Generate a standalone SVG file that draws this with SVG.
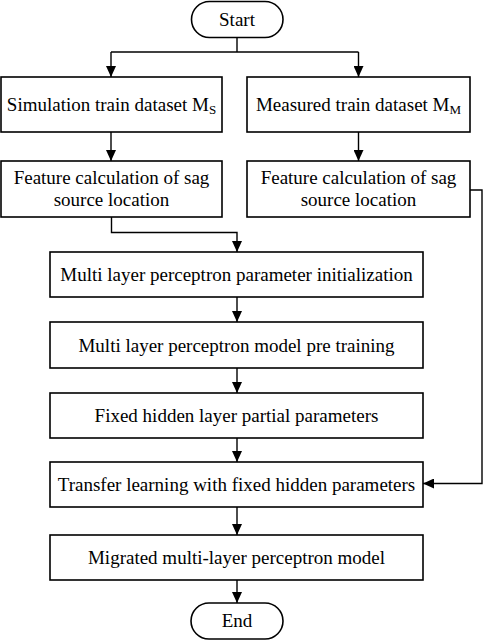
<svg xmlns="http://www.w3.org/2000/svg" width="484" height="640" viewBox="0 0 484 640">
<style>
.box{fill:#fff;stroke:#000;stroke-width:1.6}
.t{font-family:"Liberation Serif","Times New Roman",serif;font-size:19px;fill:#000;text-anchor:middle}
.sub{font-size:13px}
.c{fill:none;stroke:#000;stroke-width:1.4}
</style>
<defs>
<marker id="ah" markerUnits="userSpaceOnUse" markerWidth="12" markerHeight="10" refX="11" refY="5" orient="auto">
<path d="M0,0 L11,5 L0,10 z" fill="#000"/>
</marker>
</defs>
<rect width="484" height="640" fill="#fff"/>
<g id="connectors">
<path class="c" d="M237,38 V52"/>
<path class="c" d="M111,52 H358.5"/>
<path class="c" d="M111,52 V77" marker-end="url(#ah)"/>
<path class="c" d="M358.5,52 V77" marker-end="url(#ah)"/>
<path class="c" d="M111,132 V161" marker-end="url(#ah)"/>
<path class="c" d="M358.5,132 V161" marker-end="url(#ah)"/>
<path class="c" d="M111.5,217 V232.5 H237 V252" marker-end="url(#ah)"/>
<path class="c" d="M237,297 V322" marker-end="url(#ah)"/>
<path class="c" d="M237,368 V393" marker-end="url(#ah)"/>
<path class="c" d="M237,438 V462" marker-end="url(#ah)"/>
<path class="c" d="M237,507 V535" marker-end="url(#ah)"/>
<path class="c" d="M237,580 V603" marker-end="url(#ah)"/>
<path class="c" d="M470,190 H482 V483.5 H423" marker-end="url(#ah)"/>
</g>
<g id="start">
<rect class="box" x="191.5" y="1.5" width="91.5" height="36" rx="18" ry="18"/>
<text class="t" x="237" y="25.5">Start</text>
</g>
<g id="sim-dataset">
<rect class="box" x="1" y="77" width="221" height="55"/>
<text class="t" x="111.5" y="110.5">Simulation train dataset M<tspan class="sub" dy="3">S</tspan></text>
</g>
<g id="meas-dataset">
<rect class="box" x="247" y="77" width="223" height="55"/>
<text class="t" x="358.5" y="110.5">Measured train dataset M<tspan class="sub" dy="3">M</tspan></text>
</g>
<g id="feat-left">
<rect class="box" x="1" y="161" width="221" height="56"/>
<text class="t" x="111.5" y="183.5">Feature calculation of sag</text>
<text class="t" x="111.5" y="205.5">source location</text>
</g>
<g id="feat-right">
<rect class="box" x="247" y="161" width="223" height="56"/>
<text class="t" x="358.5" y="183.5">Feature calculation of sag</text>
<text class="t" x="358.5" y="205.5">source location</text>
</g>
<g id="mlp-init">
<rect class="box" x="50" y="252" width="373" height="45"/>
<text class="t" x="236.5" y="281">Multi layer perceptron parameter initialization</text>
</g>
<g id="mlp-pretrain">
<rect class="box" x="50" y="322" width="373" height="46"/>
<text class="t" x="236.5" y="351.5">Multi layer perceptron model pre training</text>
</g>
<g id="fixed-hidden">
<rect class="box" x="50" y="393" width="373" height="45"/>
<text class="t" x="236.5" y="422">Fixed hidden layer partial parameters</text>
</g>
<g id="transfer">
<rect class="box" x="50" y="462" width="373" height="45"/>
<text class="t" x="236.5" y="490.5">Transfer learning with fixed hidden parameters</text>
</g>
<g id="migrated">
<rect class="box" x="50" y="535" width="373" height="45"/>
<text class="t" x="236.5" y="563.5">Migrated multi-layer perceptron model</text>
</g>
<g id="end">
<rect class="box" x="191" y="603" width="92" height="36" rx="18" ry="18"/>
<text class="t" x="237" y="627">End</text>
</g>
</svg>
